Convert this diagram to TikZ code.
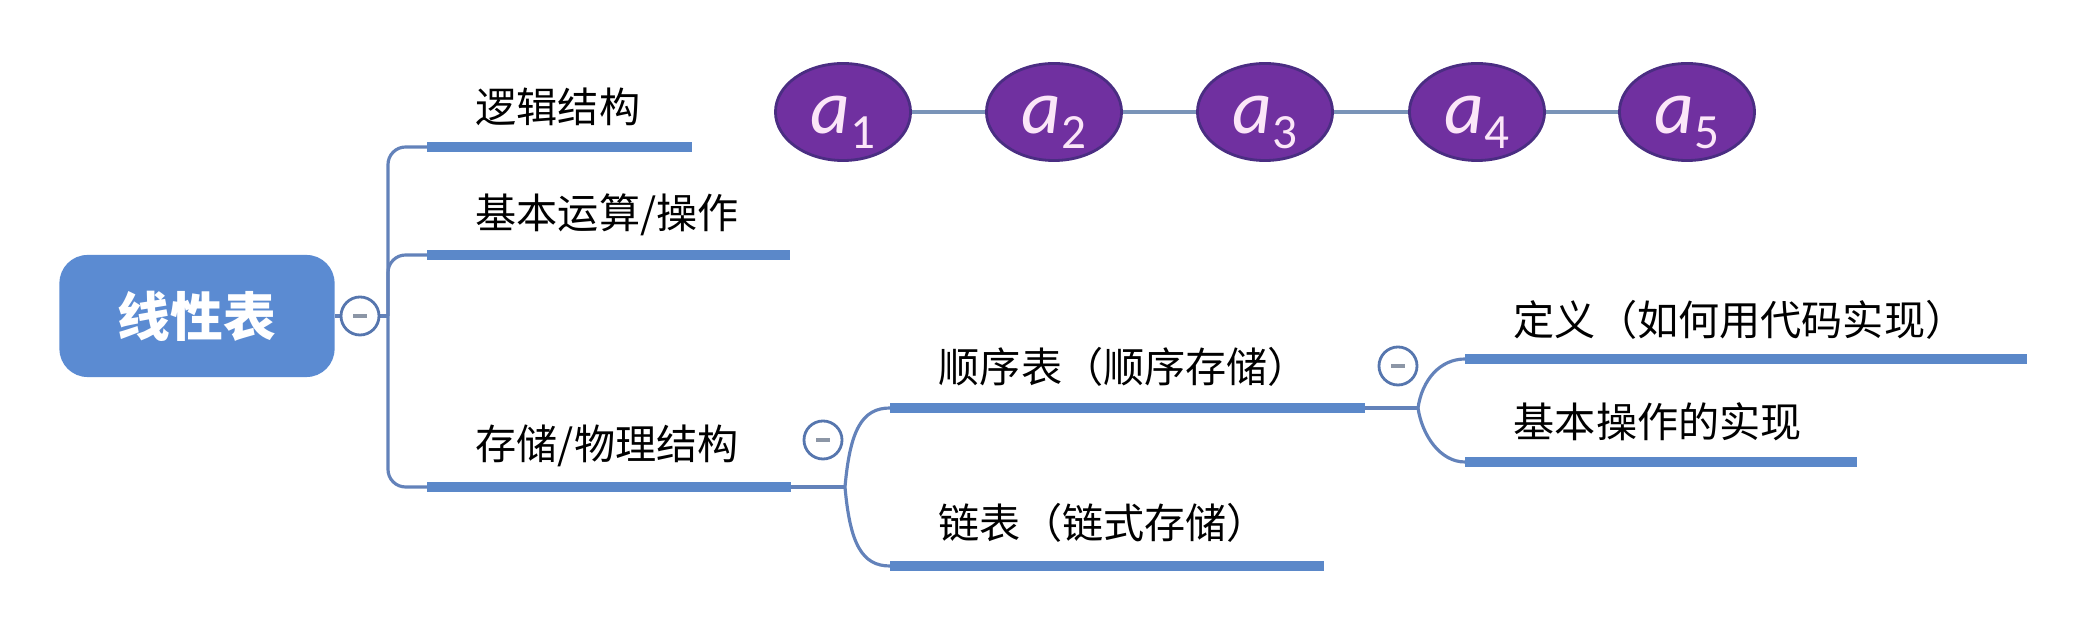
\documentclass[tikz,border=0pt]{standalone}
\usepackage{fontspec}
\setmainfont{Noto Sans CJK SC}
\newfontfamily\labfont{Carlito}
\usepackage{xcolor}
\usepackage{tikz}
\usetikzlibrary{shapes.geometric}
\definecolor{rootblue}{HTML}{5B8BD2}
\definecolor{lineblue}{HTML}{5B88C9}
\definecolor{branchblue}{HTML}{6382BA}
\definecolor{foldblue}{HTML}{5676AE}
\definecolor{minusgray}{HTML}{8C96A6}
\definecolor{elemfill}{HTML}{7030A0}
\definecolor{elemdraw}{HTML}{4A2D82}
\definecolor{elemtext}{HTML}{FBE6F8}
\definecolor{linkblue}{HTML}{7A94B8}
\tikzset{
  topicText/.style={anchor=west, inner sep=0pt, text=black, font=\fontsize{11.7}{14}\selectfont},
  rootBox/.style={fill=rootblue, rounded corners=8pt, minimum width=2.75cm, minimum height=1.22cm, text=white, font=\fontsize{15}{18}\selectfont\bfseries},
  underLine/.style={line width=3.1pt, draw=lineblue},
  branchLine/.style={line width=0.9pt, draw=branchblue},
  foldMark/.style={circle, draw=foldblue, line width=0.8pt, fill=white, minimum size=0.38cm, inner sep=0pt},
  minusBar/.style={line width=1.2pt, draw=minusgray},
  elemNode/.style={ellipse, fill=elemfill, draw=elemdraw, line width=0.8pt, minimum width=1.35cm, minimum height=0.97cm, inner sep=0pt, text=elemtext, text height=14pt, text depth=2pt},
  elemLink/.style={line width=1pt, draw=linkblue}
}
\newcommand{\elem}[1]{{\labfont\fontsize{22}{22}\selectfont\itshape a}\raisebox{-4.5pt}{\labfont\fontsize{14}{14}\selectfont #1}}

\begin{document}
\begin{tikzpicture}[x=0.01cm,y=-0.01cm]
\useasboundingbox (0,0) rectangle (2078,625);
% root
\node[rootBox] (root) at (197,316) {线性表};
\coordinate (j0) at (388,316);

% first level
\node[topicText] (t1) at (475,107) {逻辑结构};
\node[topicText] (t2) at (475,215) {基本运算/操作};
\node[topicText] (t3) at (475,446) {存储/物理结构};
\coordinate (l1s) at (427,147); \coordinate (l1e) at (692,147);
\coordinate (l2s) at (427,255); \coordinate (l2e) at (790,255);
\coordinate (l3s) at (427,487); \coordinate (l3e) at (791,487);
\draw[branchLine] (root.east) -- (j0);
\draw[branchLine, rounded corners=5pt] (j0) |- (l1s);
\draw[branchLine, rounded corners=5pt] (j0) |- (l2s);
\draw[branchLine, rounded corners=5pt] (j0) |- (l3s);
\draw[underLine] (l1s) -- (l1e);
\draw[underLine] (l2s) -- (l2e);
\draw[underLine] (l3s) -- (l3e);
\node[foldMark] (m0) at (360,316) {};
\draw[minusBar] (m0.center) ++(-7,0) -- ++(14,0);

% storage
\node[topicText] (t4) at (938,367) {顺序表（顺序存储）};
\node[topicText] (t5) at (938,523) {链表（链式存储）};
\coordinate (j1) at (845,487);
\coordinate (l4s) at (890,408); \coordinate (l4e) at (1365,408);
\coordinate (l5s) at (890,566); \coordinate (l5e) at (1324,566);
\draw[branchLine] (l3e) -- (j1);
\draw[branchLine] (j1) .. controls (850,430) and (862,408) .. (l4s);
\draw[branchLine] (j1) .. controls (850,544) and (862,566) .. (l5s);
\draw[underLine] (l4s) -- (l4e);
\draw[underLine] (l5s) -- (l5e);
\node[foldMark] (m1) at (823,440) {};
\draw[minusBar] (m1.center) ++(-7,0) -- ++(14,0);

% sequential list
\node[topicText] (t6) at (1513,320) {定义（如何用代码实现）};
\node[topicText] (t7) at (1513,422) {基本操作的实现};
\coordinate (j2) at (1418,408);
\coordinate (l6s) at (1465,359); \coordinate (l6e) at (2027,359);
\coordinate (l7s) at (1465,462); \coordinate (l7e) at (1857,462);
\draw[branchLine] (l4e) -- (j2);
\draw[branchLine] (j2) .. controls (1422,380) and (1440,359) .. (l6s);
\draw[branchLine] (j2) .. controls (1422,435) and (1440,462) .. (l7s);
\draw[underLine] (l6s) -- (l6e);
\draw[underLine] (l7s) -- (l7e);
\node[foldMark] (m2) at (1398,366) {};
\draw[minusBar] (m2.center) ++(-7,0) -- ++(14,0);

% elements
\foreach \i/\x in {1/843,2/1054,3/1265,4/1477,5/1687}
  \node[elemNode] (a\i) at (\x,112) {\elem{\i}};
\foreach \i/\j in {1/2,2/3,3/4,4/5}
  \draw[elemLink] (a\i) -- (a\j);
\end{tikzpicture}
\end{document}
